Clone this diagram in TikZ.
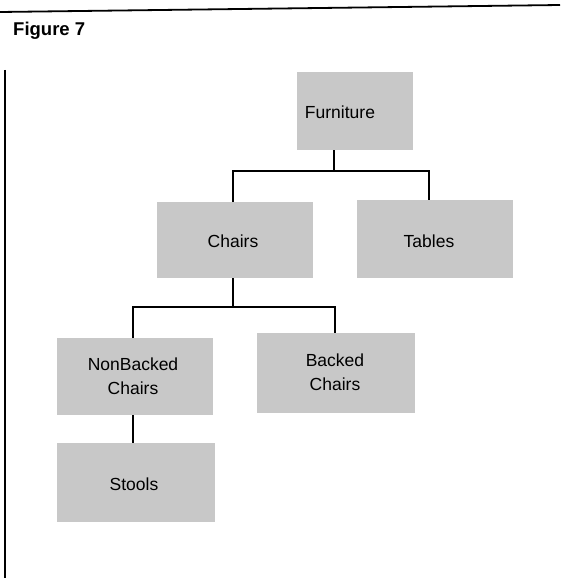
\documentclass[tikz,border=0pt]{standalone}
\usepackage{fontspec}
\setmainfont{Liberation Sans}
\begin{document}
\begin{tikzpicture}[x=1pt,y=-1pt,
  shade box/.style={draw=none,fill=boxgray,inner sep=0pt,anchor=north west},
  label text/.style={font=\fontsize{17.5}{24}\selectfont,align=center,inner sep=0pt,text=black},
  link/.style={draw=black,line width=1.3pt},
  frame line/.style={draw=black,line width=1.8pt}]
\definecolor{boxgray}{RGB}{200,200,200}
\useasboundingbox (0,0) rectangle (560,578);

% page frame: rule across the top and a rule down the left side
\coordinate (ruleL) at (0,12);
\coordinate (ruleR) at (560,5);
\draw[frame line] (ruleL) -- (ruleR);
\coordinate (sideT) at (5,70);
\coordinate (sideB) at (5,578);
\draw[frame line,line width=1.2pt] (sideT) -- (sideB);
\node[anchor=base west,font=\bfseries\fontsize{18.5}{22}\selectfont,inner sep=0pt] (title) at (13,36) {Figure 7};

% shaded boxes
\node[shade box,minimum width=116pt,minimum height=78pt] (fbox) at (297,72) {};
\node[shade box,minimum width=156pt,minimum height=76pt] (cbox) at (157,202) {};
\node[shade box,minimum width=156pt,minimum height=78pt] (tbox) at (357,200) {};
\node[shade box,minimum width=156pt,minimum height=77pt] (nbox) at (57,338) {};
\node[shade box,minimum width=158pt,minimum height=80pt] (bbox) at (257,333) {};
\node[shade box,minimum width=158pt,minimum height=79pt] (sbox) at (57,443) {};

% labels
\node[label text] (furniture) at (340,112) {Furniture};
\node[label text] (chairs) at (233,241) {Chairs};
\node[label text] (tables) at (429,241) {Tables};
\node[label text] (nonbacked) at (133,376) {NonBacked\\Chairs};
\node[label text] (backed) at (335,372) {Backed\\Chairs};
\node[label text] (stools) at (134,484) {Stools};

% tree connectors
\coordinate (j1) at (334,171);
\coordinate (j2) at (233,307);
\draw[link] (j1 |- fbox.south) -- (j1);
\draw[link] (chairs |- cbox.north) -- (chairs |- j1) -- (tables |- j1) -- (tables |- tbox.north);
\draw[link] (chairs |- cbox.south) -- (j2);
\draw[link] (nonbacked |- nbox.north) -- (nonbacked |- j2) -- (backed |- j2) -- (backed |- bbox.north);
\draw[link] (nonbacked |- nbox.south) -- (nonbacked |- sbox.north);
\end{tikzpicture}
\end{document}
